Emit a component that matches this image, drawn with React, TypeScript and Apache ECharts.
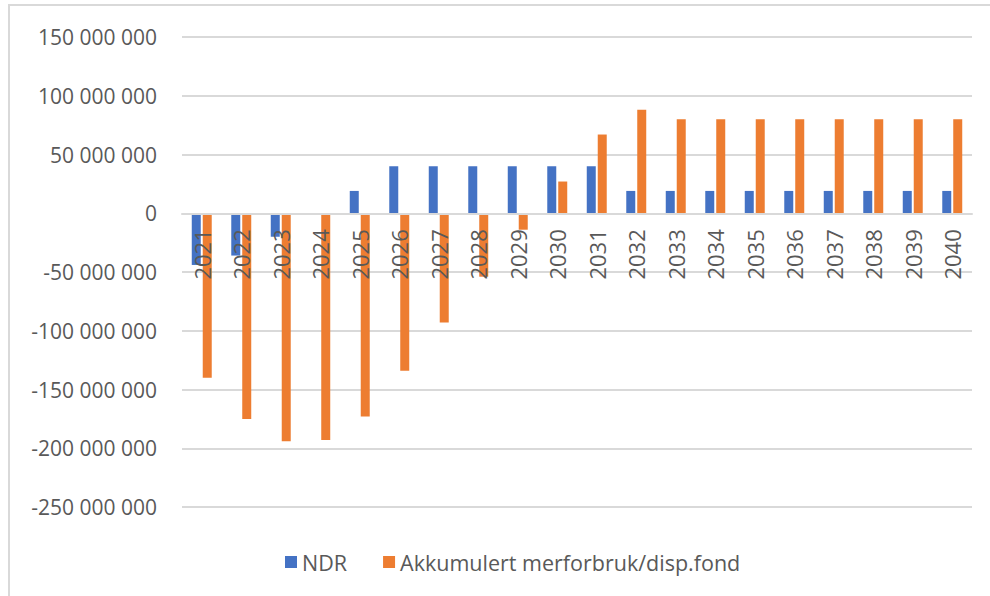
import React, { useEffect, useRef } from "react";
import * as echarts from "echarts";

const years = ["2021","2022","2023","2024","2025","2026","2027","2028","2029","2030","2031","2032","2033","2034","2035","2036","2037","2038","2039","2040"];
const ndr = [-44000000,-36000000,-20000000,0,19000000,40000000,40000000,40000000,40000000,40000000,40000000,19000000,19000000,19000000,19000000,19000000,19000000,19000000,19000000,19000000];
const akkumulert = [-140000000,-175000000,-194000000,-193000000,-173000000,-134000000,-93000000,-54000000,-14000000,27000000,67000000,88000000,80000000,80000000,80000000,80000000,80000000,80000000,80000000,80000000];
const seriesNames = ["NDR", "Akkumulert merforbruk/disp.fond"];

const fmt = (v: number) => {
  const s = Math.abs(v).toString().replace(/\B(?=(\d{3})+(?!\d))/g, " ");
  return (v < 0 ? "-" : "") + s;
};

export default function App() {
  const ref = useRef<HTMLDivElement>(null);
  useEffect(() => {
    const chart = echarts.init(ref.current!, null, { renderer: "svg" });
    const font = "'Open Sans', sans-serif";
    const gridTop = 37;
    const gridBottom = 89;
    const plotH = 596 - gridTop - gridBottom;
    const yMin = -250000000;
    const yMax = 150000000;
    const zeroFromBottom = plotH * (0 - yMin) / (yMax - yMin);
    chart.setOption({
      animation: false,
      backgroundColor: "#ffffff",
      textStyle: { fontFamily: font },
      graphic: [
        { type: "line", shape: { x1: 8, y1: 5, x2: 990, y2: 5 }, style: { stroke: "#d9d9d9", lineWidth: 2 } },
        { type: "line", shape: { x1: 9, y1: 5, x2: 9, y2: 596 }, style: { stroke: "#d9d9d9", lineWidth: 2 } },
      ],
      grid: { left: 182, right: 18, top: gridTop, bottom: gridBottom, containLabel: false },
      legend: {
        left: 280,
        top: 546,
        itemWidth: 12,
        itemHeight: 12,
        itemGap: 36,
        icon: "rect",
        textStyle: { fontFamily: font, fontSize: 21.5, color: "#595959" },
        data: seriesNames,
      },
      xAxis: {
        type: "category",
        data: years,
        z: 10,
        offset: -zeroFromBottom,
        axisLine: { onZero: false, lineStyle: { color: "#d9d9d9", width: 2 } },
        axisTick: { show: false },
        axisLabel: { rotate: 90, margin: 16, fontFamily: font, fontSize: 22, color: "#595959" },
      },
      yAxis: {
        type: "value",
        min: yMin,
        max: yMax,
        interval: 50000000,
        axisLine: { show: false },
        axisTick: { show: false },
        splitLine: { lineStyle: { color: "#d9d9d9", width: 2 } },
        axisLabel: { margin: 25, fontFamily: font, fontSize: 21, color: "#595959", formatter: fmt },
      },
      series: [
        { name: seriesNames[0], type: "bar", data: ndr, barWidth: 9, barGap: "22%", itemStyle: { color: "#4472C4" } },
        { name: seriesNames[1], type: "bar", data: akkumulert, barWidth: 9, itemStyle: { color: "#ED7D31" } },
      ],
    });
    return () => chart.dispose();
  }, []);
  return <div ref={ref} style={{ position: "absolute", left: 0, top: 0, width: 990, height: 596 }} />;
}
